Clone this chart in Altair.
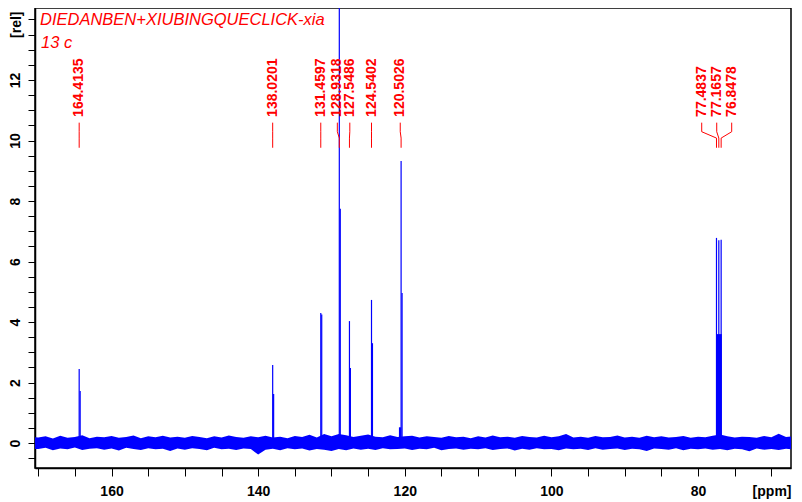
import altair as alt
import pandas as pd

# ---------------- data ----------------
title_lines = ["DIEDANBEN+XIUBINGQUECLICK-xia", "13 c"]

# peak positions (ppm), label texts and heights (rel)
peak_ppm = [164.4135, 138.0201, 131.4597, 128.9318, 127.5486, 124.5402, 120.5026, 77.4837, 77.1657, 76.8478]
peak_label = ["164.4135", "138.0201", "131.4597", "128.9318", "127.5486", "124.5402", "120.5026", "77.4837", "77.1657", "76.8478"]
peak_height = [2.45, 2.58, 4.30, 16.0, 4.03, 4.73, 9.32, 6.78, 6.70, 6.72]
# neighbouring sample of each peak
sub_ppm = [164.28, 137.89, 131.33, 128.80, 127.42, 124.41, 120.37]
sub_height = [1.72, 1.62, 4.25, 7.74, 2.48, 3.30, 4.96]
# where each label sits (ppm) - shifted for crowded peaks
label_ppm = [164.4135, 138.0201, 131.4597, 129.20, 127.50, 124.5402, 120.62, 79.50, 77.45, 75.41]

# filled regions of the spectrum (ppm from, ppm to, height)
block_from = [77.55, 120.80]
block_to = [76.75, 120.50]
block_height = [3.60, 0.52]

# baseline noise envelope, 1 ppm grid from 171 down to 66
noise_ppm = list(range(171, 65, -1))
noise_hi = [0.2, 0.18, 0.22, 0.15, 0.24, 0.17, 0.2, 0.26, 0.16, 0.21, 0.19,
            0.23, 0.17, 0.2, 0.25, 0.16, 0.22, 0.19, 0.24, 0.18, 0.21,
            0.17, 0.23, 0.2, 0.16, 0.22, 0.18, 0.25, 0.2, 0.17, 0.22,
            0.19, 0.24, 0.18, 0.21, 0.16, 0.23, 0.2, 0.27, 0.18, 0.3,
            0.22, 0.3, 0.26, 0.2, 0.24, 0.28, 0.21, 0.19, 0.26, 0.2,
            0.22, 0.24, 0.18, 0.22, 0.2, 0.17, 0.23, 0.19, 0.21, 0.16,
            0.22, 0.18, 0.25, 0.19, 0.21, 0.17, 0.23, 0.2, 0.18, 0.24,
            0.19, 0.22, 0.3, 0.18, 0.21, 0.17, 0.23, 0.19, 0.2, 0.25,
            0.18, 0.21, 0.17, 0.24, 0.19, 0.22, 0.18, 0.2, 0.23, 0.17,
            0.21, 0.19, 0.24, 0.28, 0.22, 0.18, 0.21, 0.2, 0.17, 0.23,
            0.19, 0.31, 0.2, 0.22, 0.19]
noise_lo = [-0.19, -0.2, -0.16, -0.24, -0.18, -0.21, -0.15, -0.23, -0.19, -0.17, -0.22,
            -0.18, -0.25, -0.16, -0.2, -0.23, -0.17, -0.21, -0.19, -0.26, -0.18,
            -0.22, -0.17, -0.2, -0.24, -0.16, -0.21, -0.19, -0.23, -0.18, -0.2,
            -0.38, -0.22, -0.19, -0.24, -0.17, -0.21, -0.18, -0.25, -0.2, -0.22,
            -0.26, -0.2, -0.24, -0.18, -0.22, -0.19, -0.23, -0.17, -0.21, -0.2,
            -0.18, -0.23, -0.19, -0.21, -0.16, -0.24, -0.2, -0.18, -0.22, -0.19,
            -0.21, -0.17, -0.23, -0.2, -0.18, -0.25, -0.19, -0.22, -0.17, -0.21,
            -0.2, -0.24, -0.18, -0.21, -0.19, -0.23, -0.17, -0.22, -0.2, -0.18,
            -0.23, -0.19, -0.21, -0.26, -0.18, -0.2, -0.22, -0.17, -0.24, -0.19,
            -0.21, -0.18, -0.22, -0.2, -0.24, -0.19, -0.21, -0.27, -0.18, -0.22,
            -0.2, -0.23, -0.19, -0.21, -0.2]

x_ticks = list(range(70, 171, 5))
y_ticks = [v / 2 for v in range(-1, 29)]

# ---------------- frames ----------------
BLUE = "#0000FF"
RED = "#FF0000"
FONT = "Liberation Sans"

noise_df = pd.DataFrame({"ppm": noise_ppm, "lo": noise_lo, "hi": noise_hi})
peaks_df = pd.DataFrame({"ppm": peak_ppm + sub_ppm,
                         "base": 0.0,
                         "top": peak_height + sub_height})
block_df = pd.DataFrame({"a": block_from, "b": block_to, "base": 0.0, "top": block_height})

# leader lines: vertical at label, bend, vertical at peak
lead_rows = []
for i, (p, lp) in enumerate(zip(peak_ppm, label_ppm)):
    for k, (xx, yy) in enumerate([(lp, 10.59), (lp, 10.29), (p, 10.08), (p, 9.76)]):
        lead_rows.append({"id": i, "k": k, "ppm": xx, "y": yy})
lead_df = pd.DataFrame(lead_rows)
label_df = pd.DataFrame({"ppm": label_ppm, "txt": peak_label, "y": 10.78})

# plot spans 756 px at 7.331 px/ppm
xscale = alt.Scale(domain=[67.32, 170.44], reverse=True, nice=False, zero=False)
yscale = alt.Scale(domain=[-0.826, 14.38], nice=False, zero=False)

xaxis = alt.Axis(values=x_ticks, labelExpr="datum.value % 20 == 0 ? datum.label : ''",
                 grid=False, tickSize=8, labelPadding=8, labelFont=FONT, labelFontSize=14,
                 labelFontWeight="bold", labelColor="black", labelOverlap=False,
                 title="[ppm]", titleFont=FONT, titleFontSize=14, titleFontWeight="bold",
                 titleX=756, titleY=27, titleAlign="right", titleBaseline="alphabetic",
                 titleColor="black")
yaxis = alt.Axis(values=y_ticks, format=".0f",
                 labelExpr="(datum.value % 2 == 0 && datum.value < 13) ? datum.label : ''",
                 grid=False, tickSize=7, labelPadding=6, labelAngle=270, labelAlign="center",
                 labelBaseline="bottom", labelFont=FONT, labelFontSize=14, labelFontWeight="bold",
                 labelColor="black", labelOverlap=False,
                 title="[rel]", titleFont=FONT, titleFontSize=14, titleFontWeight="bold",
                 titleAngle=270, titleX=-19, titleY=3, titleAlign="right", titleBaseline="middle",
                 titleColor="black")


def X(field):
    return alt.X(field, type="quantitative", scale=xscale, axis=xaxis)


def Y(field):
    return alt.Y(field, type="quantitative", scale=yscale, axis=yaxis)


noise = alt.Chart(noise_df).mark_area(color=BLUE, clip=True, interpolate="linear").encode(
    x=X("ppm"), y=Y("lo"), y2="hi")

peaks = alt.Chart(peaks_df).mark_rule(color=BLUE, strokeWidth=1.2, clip=True).encode(
    x=X("ppm"), y=Y("base"), y2="top")

blocks = alt.Chart(block_df).mark_rect(color=BLUE, clip=True).encode(
    x=X("a"), x2="b", y=Y("base"), y2="top")

leads = alt.Chart(lead_df).mark_line(color=RED, strokeWidth=1).encode(
    x=X("ppm"), y=Y("y"), detail="id:N", order="k:Q")

labels = alt.Chart(label_df).mark_text(color=RED, font=FONT, fontSize=14, fontWeight="bold",
                                       angle=270, align="left", baseline="middle").encode(
    x=X("ppm"), y=Y("y"), text="txt:N")

title_df = pd.DataFrame({"t": [title_lines[0]]})
sub_df = pd.DataFrame({"t": [title_lines[1]]})
title1 = alt.Chart(title_df).mark_text(color=RED, font=FONT, fontSize=16.5, fontStyle="italic",
                                       align="left", baseline="alphabetic").encode(
    x=alt.value(5), y=alt.value(17), text="t:N")
title2 = alt.Chart(sub_df).mark_text(color=RED, font=FONT, fontSize=16.5, fontStyle="italic",
                                     align="left", baseline="alphabetic").encode(
    x=alt.value(6), y=alt.value(40), text="t:N")

chart = alt.layer(noise, blocks, peaks, leads, labels, title1, title2).properties(
    width=756, height=460,
    autosize=alt.AutoSizeParams(type="none"),
    padding={"left": 27, "top": 0, "right": 2, "bottom": 33},
).configure_view(stroke="black", strokeWidth=1.5).configure_axis(
    domainColor="black", domainWidth=1.5, tickColor="black", tickWidth=1)

chart.save("out.html", embed_options={"renderer": "svg", "actions": False})
